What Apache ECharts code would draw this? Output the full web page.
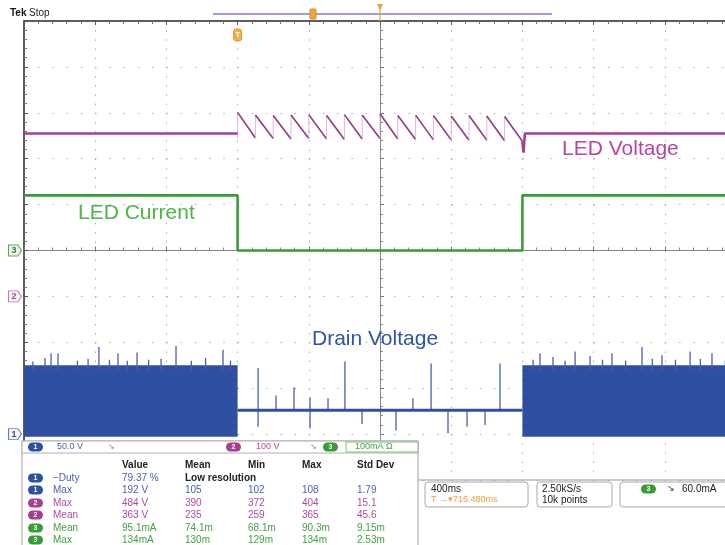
<!DOCTYPE html>
<html>
<head>
<meta charset="utf-8">
<script src="https://cdn.jsdelivr.net/npm/echarts@6/dist/echarts.min.js"></script>
<style>
  html, body { margin: 0; padding: 0; background: #ffffff; overflow: hidden; }
  #frame { width: 725px; height: 545px; overflow: hidden; position: relative; }
  #scope { width: 760px; height: 545px; }
</style>
</head>
<body>
<div id="frame"><div id="scope"></div></div>
<script>
// Horizontal: 400 ms/div, 10 divisions, trigger reference at centre (0 ms)
const timeMin = -2000;
const timeMax = 2000;
const timePerDiv = 400;

// CH2 – LED voltage (100 V/div): steady level before and after the burst
const ledVoltageTime = [-2000, -800, null, 800, 806, 814, 2000];
const ledVoltage = [355, 355, null, 338, 313, 355, 355];

// CH2 – LED voltage ripple while switching: each tooth jumps to a peak and ramps down
const toothStart = [-800, -700, -600, -500, -400, -300, -200, -100, 0, 100, 200, 300, 400, 500, 600, 700];
const toothEnd = [-700, -600, -500, -400, -300, -200, -100, 0, 100, 200, 300, 400, 500, 600, 700, 800];
const toothPeak = [401, 395, 394, 395, 396, 394, 396, 395, 398, 394, 395, 394, 393, 394, 393, 392];
const toothTrough = [345, 344, 343, 344, 343, 342, 343, 344, 343, 342, 341, 341, 340, 340, 339, 338];

// CH3 – LED current (mA, 100 mA/div)
const ledCurrentTime = [-2000, -800, -800, 800, 800, 2000];
const ledCurrent = [120, 120, 0, 0, 120, 120];

// CH1 – drain voltage (50 V/div): switching bursts drawn as min/max envelopes
const drainBurstStart = [-2000, 800];
const drainBurstEnd = [-800, 2000];
const drainBurstLow = [-3, -3];
const drainBurstHigh = [75, 75];

// CH1 – drain voltage level while the switch is idle
const drainIdleTime = [-800, 800];
const drainIdle = [26, 26];

// CH1 – individual ringing spikes: time, low, high
const spikeTime = [
  -1950, -1882, -1848, -1809, -1700, -1640, -1579, -1520, -1472, -1420, -1365, -1300,
  -1230, -1146, -1060, -980, -882, -840,
  -685, -584, -483, -393, -292, -197, -101, 90, 185, 287, 382, 489, 590, 674,
  860, 899, 972, 1040, 1096, 1180, 1250, 1303, 1380, 1472, 1530, 1584, 1660, 1742, 1800, 1865, 1940
];
const spikeLow = [
  70, 70, 70, 70, 70, 70, 70, 70, 70, 70, 70, 70,
  70, 70, 70, 70, 70, 70,
  8, 26, 26, 6, 26, 26, 11, 4, 26, 26, 1, 8, 10, 26,
  70, 70, 70, 70, 70, 70, 70, 70, 70, 70, 70, 70, 70, 70, 70, 70, 70
];
const spikeHigh = [
  79, 83, 88, 88, 80, 82, 95, 81, 88, 80, 89, 81,
  82, 96, 80, 83, 92, 80,
  72, 42, 51, 40, 39, 79, 26, 26, 39, 77, 26, 26, 26, 77,
  81, 88, 84, 80, 90, 85, 81, 88, 80, 95, 82, 86, 81, 90, 82, 88, 80
];

// Measurement table
const measHeader = ['Value', 'Mean', 'Min', 'Max', 'Std Dev'];
const measChannel = [1, 1, 2, 2, 3, 3];
const measName = ['\u2212Duty', 'Max', 'Max', 'Mean', 'Mean', 'Max'];
const measValue = ['79.37 %', '192 V', '484 V', '363 V', '95.1mA', '134mA'];
const measMean = ['Low resolution', '105', '390', '235', '74.1m', '130m'];
const measMin = ['', '102', '372', '259', '68.1m', '129m'];
const measMax = ['', '108', '404', '365', '90.3m', '134m'];
const measStd = ['', '1.79', '15.1', '45.6', '9.15m', '2.53m'];

// Channel scale readouts
const scaleText = ['50.0 V', '100 V', '100mA \u03a9'];

const C1 = '#2e4fa2', C1T = '#4a5fb5';
const C2 = '#a83e92', C2T = '#b04a9e';
const C3 = '#3a9c36', C3T = '#3fa342';
const chColor = { 1: C1, 2: C2, 3: C3 };
const chText = { 1: C1T, 2: C2T, 3: C3T };
const UI_FONT = '"Liberation Sans", Arial, sans-serif';

const pairs = (xs, ys) => xs.map((x, i) => (x === null ? [null, null] : [x, ys[i]]));

const chart = echarts.init(document.getElementById('scope'), null, { renderer: 'canvas', width: 760, height: 545 });

const GRID = { left: 24, top: 21, width: 712, height: 459 };
const dotV = [1.4, 45.9 / 5 - 1.4];   // dots every 1/5 division along vertical lines
const dotH = [1.4, 71.2 / 5 - 1.4];   // dots every 1/5 division along horizontal lines

function groundMarker(label, stroke, text) {
  return {
    silent: true,
    symbol: 'path://M0,0 L10,0 L14,5.5 L10,11 L0,11 Z',
    symbolSize: [13, 11],
    symbolOffset: [-9, 0],
    itemStyle: { color: '#f4f4f4', borderColor: stroke, borderWidth: 1 },
    label: { show: true, position: 'inside', formatter: label, color: text, fontSize: 9, fontWeight: 'bold', fontFamily: UI_FONT, offset: [-1, 0] },
    data: [{ coord: [timeMin, 0] }]
  };
}

const option = {
  animation: false,
  backgroundColor: '#ffffff',
  grid: Object.assign({ show: true, borderColor: '#9a9a9a', borderWidth: 1 }, GRID),
  xAxis: [
    {
      type: 'value', min: timeMin, max: timeMax, interval: timePerDiv,
      axisLine: { show: true, onZero: true, onZeroAxisIndex: 0, lineStyle: { color: '#8a8a8a', width: 1 } },
      axisTick: { show: true, inside: true, length: 4, lineStyle: { color: '#777' } },
      minorTick: { show: true, splitNumber: 5, length: 3, lineStyle: { color: '#888' } },
      axisLabel: { show: false },
      splitLine: { show: true, lineStyle: { color: '#a8a8a8', width: 1, type: dotV } }
    },
    {
      type: 'value', position: 'top', min: timeMin, max: timeMax, interval: timePerDiv,
      axisLine: { show: true, onZero: false, lineStyle: { color: '#3a3a3a', width: 1.5 } },
      axisTick: { show: true, inside: true, length: 4, lineStyle: { color: '#555' } },
      minorTick: { show: true, splitNumber: 5, length: 3, lineStyle: { color: '#777' } },
      axisLabel: { show: false },
      splitLine: { show: false }
    }
  ],
  yAxis: [
    {
      type: 'value', min: -5, max: 5, interval: 1,
      axisLine: { show: true, onZero: true, lineStyle: { color: '#8a8a8a', width: 1 } },
      axisTick: { show: true, inside: true, length: 4, lineStyle: { color: '#777' } },
      minorTick: { show: true, splitNumber: 5, length: 3, lineStyle: { color: '#888' } },
      axisLabel: { show: false },
      splitLine: { show: true, lineStyle: { color: '#a8a8a8', width: 1, type: dotH } }
    },
    { type: 'value', min: -50, max: 450, show: false },
    { type: 'value', min: -400, max: 600, show: false },
    { type: 'value', min: -500, max: 500, show: false },
    {
      type: 'value', position: 'left', min: -5, max: 5, interval: 1,
      axisLine: { show: true, onZero: false, lineStyle: { color: '#3a3a3a', width: 1.5 } },
      axisTick: { show: true, inside: true, length: 4, lineStyle: { color: '#555' } },
      minorTick: { show: true, splitNumber: 5, length: 3, lineStyle: { color: '#777' } },
      axisLabel: { show: false },
      splitLine: { show: false }
    }
  ],
  series: [
    {
      name: 'Drain bursts', type: 'custom', xAxisIndex: 0, yAxisIndex: 1, silent: true, z: 2,
      data: drainBurstStart.map((t, i) => [t, drainBurstEnd[i], drainBurstLow[i], drainBurstHigh[i]]),
      encode: { x: [0, 1], y: [2, 3] },
      renderItem: function (params, api) {
        const a = api.coord([api.value(0), api.value(3)]);
        const b = api.coord([api.value(1), api.value(2)]);
        return { type: 'rect', shape: { x: a[0], y: a[1], width: b[0] - a[0], height: b[1] - a[1] }, style: { fill: C1 } };
      }
    },
    {
      name: 'Drain spikes', type: 'custom', xAxisIndex: 0, yAxisIndex: 1, silent: true, z: 3,
      data: spikeTime.map((t, i) => [t, spikeLow[i], spikeHigh[i]]),
      encode: { x: 0, y: [1, 2] },
      renderItem: function (params, api) {
        const a = api.coord([api.value(0), api.value(1)]);
        const b = api.coord([api.value(0), api.value(2)]);
        return { type: 'line', shape: { x1: a[0], y1: a[1], x2: b[0], y2: b[1] }, style: { stroke: '#4b5fa8', lineWidth: 1.3 } };
      }
    },
    {
      name: 'Drain Voltage', type: 'line', xAxisIndex: 0, yAxisIndex: 1, silent: true, z: 4,
      data: pairs(drainIdleTime, drainIdle), symbol: 'none',
      lineStyle: { color: C1, width: 3 },
      markPoint: groundMarker('1', '#6a78c0', '#3a4a9a')
    },
    {
      name: 'LED Current', type: 'line', xAxisIndex: 0, yAxisIndex: 3, silent: true, z: 5,
      data: pairs(ledCurrentTime, ledCurrent), symbol: 'none',
      lineStyle: { color: C3, width: 2.6 },
      markPoint: groundMarker('3', '#5aa85a', '#2f7f2f')
    },
    {
      name: 'LED Voltage', type: 'line', xAxisIndex: 0, yAxisIndex: 2, silent: true, z: 6,
      data: pairs(ledVoltageTime, ledVoltage), symbol: 'none', connectNulls: false,
      lineStyle: { color: C2, width: 2.6 },
      markPoint: groundMarker('2', '#c07ab8', '#a04a98')
    },
    {
      name: 'LED Voltage ripple', type: 'custom', xAxisIndex: 0, yAxisIndex: 2, silent: true, z: 6,
      data: toothStart.map((t, i) => [t, toothEnd[i], toothPeak[i], toothTrough[i]]),
      encode: { x: [0, 1], y: [2, 3] },
      renderItem: function (params, api) {
        const top = api.coord([api.value(0), api.value(2)]);
        const bottom = api.coord([api.value(1), api.value(3)]);
        const riseFrom = api.coord([api.value(0), api.value(3)]);
        return {
          type: 'group',
          children: [
            { type: 'line', shape: { x1: riseFrom[0], y1: riseFrom[1], x2: top[0], y2: top[1] }, style: { stroke: '#d9a6cf', lineWidth: 0.8 } },
            { type: 'line', shape: { x1: top[0], y1: top[1], x2: bottom[0], y2: bottom[1] }, style: { stroke: '#8e3a80', lineWidth: 1.6 } }
          ]
        };
      }
    }
  ]
};

chart.setOption(option);

// ---------- screen furniture ----------
const gfx = [];
const T = (x, y, text, color, size, weight, align, vAlign) => gfx.push({
  type: 'text', z: 100, silent: true, x: x, y: y,
  style: { text: text, fill: color, font: (weight || 'normal') + ' ' + size + 'px ' + UI_FONT, align: align || 'left', verticalAlign: vAlign || 'middle' }
});
const R = (x, y, w, h, fill, stroke, r, lw) => gfx.push({
  type: 'rect', z: 99, silent: true, shape: { x: x, y: y, width: w, height: h, r: r || 0 },
  style: { fill: fill || 'none', stroke: stroke || 'none', lineWidth: lw || 1 }
});
const L = (x1, y1, x2, y2, color, w) => gfx.push({
  type: 'line', z: 99, silent: true, shape: { x1: x1, y1: y1, x2: x2, y2: y2 }, style: { stroke: color, lineWidth: w || 1 }
});
const pill = (x, y, ch, num) => {
  R(x, y - 4.5, 15, 9, chColor[ch], null, 4.5);
  T(x + 7.5, y, String(num), '#ffffff', 7, 'bold', 'center');
};

// Trace names
const px = (t, axis, v) => chart.convertToPixel({ xAxisIndex: 0, yAxisIndex: axis }, [t, v]);
T(562, 149, 'LED Voltage', '#b5479f', 21);
T(78, 213, 'LED Current', '#4cb548', 21);
T(312, 339, 'Drain Voltage', '#2f55a8', 21);

// Header status and record bar
T(10, 13, 'Tek', '#111111', 10, 'bold');
T(29, 13, 'Stop', '#222222', 10);
L(213, 14, 552, 14, '#7a7fc2', 1.5);
const trigX = px(-800, 3, 0)[0];
const centreX = px(0, 3, 0)[0];
R(310, 9, 6, 10, '#f2a43a', '#d48a20', 1);
gfx.push({ type: 'polygon', z: 100, silent: true, shape: { points: [[centreX - 3, 4], [centreX + 3, 4], [centreX, 11]] }, style: { fill: '#f2a43a' } });
L(centreX, 10, centreX, 21, '#f2a43a', 1.2);
R(trigX - 4, 29, 8, 12, '#f6b04a', '#e0902a', 3);
T(trigX, 35, 'T', '#ffffff', 8, 'bold', 'center');

// Measurement panel
R(22, 441, 396, 110, '#ffffff', '#a0a0a0', 0, 1);
R(22, 441, 396, 12, '#ffffff', '#b0b0b0', 0, 1);
pill(28, 447, 1, 1);
T(57, 447, scaleText[0], C1T, 9);
T(108, 447, '\u2198', '#888', 8);
pill(226, 447, 2, 2);
T(256, 447, scaleText[1], C2T, 9);
T(310, 447, '\u2198', '#888', 8);
pill(323, 447, 3, 3);
R(346, 442, 72, 10, '#ffffff', '#7fbf7f', 0, 1);
T(355, 447, scaleText[2], C3T, 9);

const colX = [122, 185, 248, 302, 357];
measHeader.forEach((h, i) => T(colX[i], 465, h, '#222222', 10, 'bold'));
const rowY = [478, 490, 503, 515, 528, 540];
measName.forEach((name, i) => {
  const ch = measChannel[i];
  const y = rowY[i];
  pill(28, y, ch, ch);
  T(53, y, name, chText[ch], 10);
  T(colX[0], y, measValue[i], chText[ch], 10);
  if (i === 0) {
    T(colX[1], y, measMean[i], '#222222', 10, 'bold');
  } else {
    T(colX[1], y, measMean[i], chText[ch], 10);
    T(colX[2], y, measMin[i], chText[ch], 10);
    T(colX[3], y, measMax[i], chText[ch], 10);
    T(colX[4], y, measStd[i], chText[ch], 10);
  }
});

// Acquisition readouts
R(425, 482, 103, 25, '#ffffff', '#a8a8a8', 3);
T(431, 489, '400ms', '#222222', 10);
T(431, 500, 'T \u2192\u25be716.480ms', '#f0a040', 9);
R(537, 482, 75, 25, '#ffffff', '#a8a8a8', 3);
T(542, 489, '2.50kS/s', '#222222', 10);
T(542, 500, '10k points', '#222222', 10);
R(620, 482, 120, 25, '#ffffff', '#a8a8a8', 3);
pill(641, 489, 3, 3);
T(667, 489, '\u2198', '#333', 9);
T(682, 489, '60.0mA', '#222222', 10);

chart.setOption({ graphic: gfx });
</script>
</body>
</html>
